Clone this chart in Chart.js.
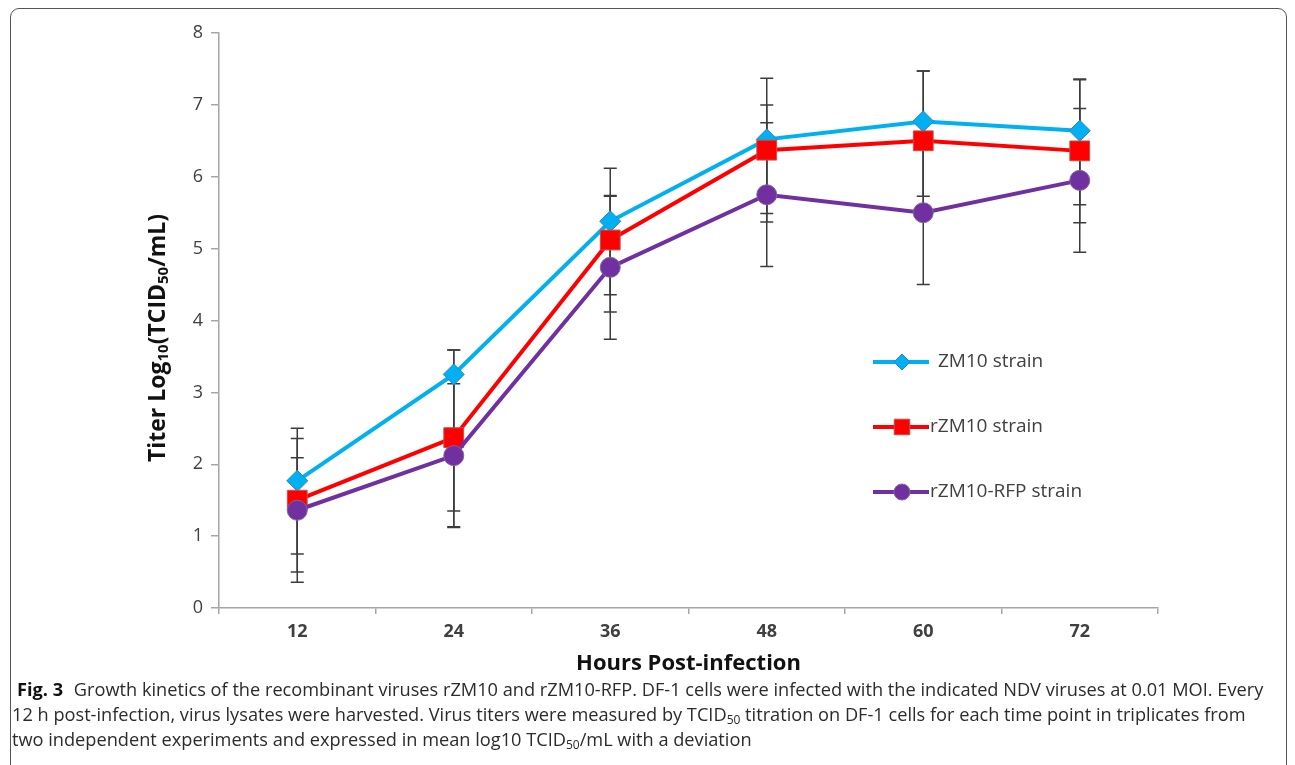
<!DOCTYPE html>
<html>
<head>
<meta charset="utf-8">
<script src="https://cdn.jsdelivr.net/npm/chart.js@4.4.1/dist/chart.umd.min.js"></script>
<style>
    body {
        margin: 0;
        width: 1295px;
        height: 765px;
        overflow: hidden;
        position: relative;
        background: #fff;
        font-family: 'Open Sans', sans-serif;
    }
    .frame {
        position: absolute;
        left: 10px;
        top: 8px;
        width: 1277px;
        height: 800px;
        border: 1.5px solid #555;
        border-radius: 9px;
        box-sizing: border-box;
    }
    #growthChart {
        position: absolute;
        left: 0;
        top: 0;
    }
    .caption {
        position: absolute;
        left: 12px;
        top: 677px;
        font-size: 18.2px;
        line-height: 25px;
        color: #2b2b2b;
        white-space: nowrap;
    }
    .caption b {
        color: #111;
        margin-left: 5px;
        margin-right: 6px;
    }
    .caption sub {
        font-size: 12px;
        line-height: 0;
        vertical-align: -3px;
    }
</style>
</head>
<body>
<div class="frame"></div>
<canvas id="growthChart" width="1295" height="680"></canvas>
<div class="caption">
    <b>Fig. 3</b> Growth kinetics of the recombinant viruses rZM10 and rZM10-RFP. DF-1 cells were infected with the indicated NDV viruses at 0.01 MOI. Every<br>
    12 h post-infection, virus lysates were harvested. Virus titers were measured by TCID<sub>50</sub> titration on DF-1 cells for each time point in triplicates from<br>
    two independent experiments and expressed in mean log10 TCID<sub>50</sub>/mL with a deviation
</div>
<script>
const hours = ['12', '24', '36', '48', '60', '72'];
const yTicks = [0, 1, 2, 3, 4, 5, 6, 7, 8];

const zm10 = [1.77, 3.25, 5.38, 6.52, 6.77, 6.64];
const rzm10 = [1.5, 2.37, 5.12, 6.37, 6.5, 6.36];
const rfp = [1.36, 2.12, 4.74, 5.75, 5.5, 5.95];

// error bar lengths above / below each mean
const zm10ErrUp = [0.32, 0.34, 0.35, 0.48, 0.7, 0.71];
const zm10ErrDown = [1.02, 2.12, 1.02, 1.03, 1.04, 1.03];
const rzm10ErrUp = [1.0, 1.22, 1.0, 1.0, 0.97, 1.0];
const rzm10ErrDown = [1.0, 1.02, 1.0, 1.0, 1.0, 1.0];
const rfpErrUp = [1.0, 1.0, 1.0, 1.0, 1.0, 1.0];
const rfpErrDown = [1.0, 1.0, 1.0, 1.0, 1.0, 1.0];

const axisGray = '#a6a6a6';
const labelGray = '#404040';

// draws error bars behind the lines
const errorBars = {
    id: 'errorBars',
    beforeDatasetsDraw(chart) {
        const ctx = chart.ctx;
        const xScale = chart.scales.x;
        const yScale = chart.scales.y;
        ctx.save();
        ctx.strokeStyle = '#3c3c3c';
        ctx.lineWidth = 1.5;
        chart.data.datasets.forEach(ds => {
            ds.data.forEach((v, i) => {
                const px = xScale.getPixelForValue(i);
                const top = yScale.getPixelForValue(v + ds.errUp[i]);
                const bottom = yScale.getPixelForValue(v - ds.errDown[i]);
                ctx.beginPath();
                ctx.moveTo(px, top);
                ctx.lineTo(px, bottom);
                ctx.moveTo(px - 6.5, top);
                ctx.lineTo(px + 6.5, top);
                ctx.moveTo(px - 6.5, bottom);
                ctx.lineTo(px + 6.5, bottom);
                ctx.stroke();
            });
        });
        ctx.restore();
    }
};

function drawMarker(ctx, style, x, y, r) {
    ctx.beginPath();
    if (style === 'rectRot') {
        ctx.moveTo(x - r, y);
        ctx.lineTo(x, y - r);
        ctx.lineTo(x + r, y);
        ctx.lineTo(x, y + r);
        ctx.closePath();
    } else if (style === 'rect') {
        const s = r * Math.SQRT1_2;
        ctx.rect(x - s, y - s, s * 2, s * 2);
    } else {
        ctx.arc(x, y, r, 0, Math.PI * 2);
    }
    ctx.fill();
    ctx.stroke();
}

// legend sits inside the plot, one entry per row
const insideLegend = {
    id: 'insideLegend',
    afterDraw(chart) {
        const ctx = chart.ctx;
        const area = chart.chartArea;
        const x0 = area.left + 654;
        const legendSizes = [8, 11, 8];
        const textGap = [65, 57, 57];
        ctx.save();
        chart.data.datasets.forEach((ds, i) => {
            const y = area.top + 329 + i * 65;
            ctx.strokeStyle = ds.borderColor;
            ctx.lineWidth = 4;
            ctx.beginPath();
            ctx.moveTo(x0, y);
            ctx.lineTo(x0 + 56, y);
            ctx.stroke();
            ctx.fillStyle = ds.pointBackgroundColor;
            ctx.strokeStyle = ds.pointBorderColor;
            ctx.lineWidth = 1;
            drawMarker(ctx, ds.pointStyle, x0 + 29, y, legendSizes[i]);
            ctx.fillStyle = labelGray;
            ctx.font = '19px "Open Sans", sans-serif';
            ctx.textBaseline = 'middle';
            ctx.fillText(ds.label, x0 + textGap[i], y);
        });
        ctx.restore();
    }
};

// rotated y title with subscripts
const yTitle = {
    id: 'yTitle',
    afterDraw(chart) {
        const ctx = chart.ctx;
        const parts = [
            { t: 'Titer Log', sub: false },
            { t: '10', sub: true },
            { t: '(TCID', sub: false },
            { t: '50', sub: true },
            { t: '/mL)', sub: false }
        ];
        const bigFont = 'bold 23px "Open Sans", sans-serif';
        const smallFont = 'bold 15px "Open Sans", sans-serif';
        ctx.save();
        let total = 0;
        parts.forEach(p => {
            ctx.font = p.sub ? smallFont : bigFont;
            p.w = ctx.measureText(p.t).width;
            total += p.w;
        });
        ctx.translate(158, 338);
        ctx.rotate(-Math.PI / 2);
        ctx.fillStyle = '#111';
        ctx.textBaseline = 'middle';
        let cx = -total / 2;
        parts.forEach(p => {
            ctx.font = p.sub ? smallFont : bigFont;
            ctx.fillText(p.t, cx, p.sub ? 6 : 0);
            cx += p.w;
        });
        ctx.restore();
    }
};

document.addEventListener('DOMContentLoaded', function() {
    const ctx = document.getElementById('growthChart');
    new Chart(ctx, {
        type: 'line',
        data: {
            labels: hours,
            datasets: [
                {
                    label: 'ZM10 strain',
                    data: zm10,
                    errUp: zm10ErrUp,
                    errDown: zm10ErrDown,
                    borderColor: '#00b0f0',
                    borderWidth: 4,
                    pointStyle: 'rectRot',
                    pointRadius: 10.5,
                    pointBackgroundColor: '#00b0f0',
                    pointBorderColor: '#2a86c8',
                    pointBorderWidth: 1,
                    order: 2
                },
                {
                    label: 'rZM10 strain',
                    data: rzm10,
                    errUp: rzm10ErrUp,
                    errDown: rzm10ErrDown,
                    borderColor: '#ff0000',
                    borderWidth: 4,
                    pointStyle: 'rect',
                    pointRadius: 14,
                    pointBackgroundColor: '#ff0000',
                    pointBorderColor: '#c0504d',
                    pointBorderWidth: 1,
                    order: 1
                },
                {
                    label: 'rZM10-RFP strain',
                    data: rfp,
                    errUp: rfpErrUp,
                    errDown: rfpErrDown,
                    borderColor: '#7030a0',
                    borderWidth: 4,
                    pointStyle: 'circle',
                    pointRadius: 10,
                    pointBackgroundColor: '#7030a0',
                    pointBorderColor: '#8064a2',
                    pointBorderWidth: 1,
                    order: 0
                }
            ]
        },
        options: {
            responsive: false,
            animation: false,
            layout: { padding: { top: 33, right: 137, left: 0, bottom: 0 } },
            plugins: {
                legend: { display: false },
                tooltip: { enabled: false }
            },
            elements: { line: { tension: 0 } },
            scales: {
                x: {
                    offset: true,
                    grid: { offset: true, drawOnChartArea: false, tickLength: 6, color: axisGray, lineWidth: 1.5 },
                    border: { color: axisGray, width: 1.5 },
                    ticks: {
                        color: labelGray,
                        padding: 7,
                        font: { family: 'Open Sans', size: 18, weight: 'bold' }
                    },
                    title: {
                        display: true,
                        text: 'Hours Post-infection',
                        color: '#111',
                        padding: { top: 0, bottom: 3 },
                        font: { family: 'Open Sans', size: 22, weight: 'bold' }
                    },
                    afterFit(scale) { scale.height = 72; }
                },
                y: {
                    min: yTicks[0],
                    max: yTicks[yTicks.length - 1],
                    afterBuildTicks(scale) { scale.ticks = yTicks.map(v => ({ value: v })); },
                    grid: { drawOnChartArea: false, tickLength: 8, color: axisGray, lineWidth: 1.5 },
                    border: { color: axisGray, width: 1.5 },
                    ticks: {
                        color: labelGray,
                        padding: 8,
                        font: { family: 'Open Sans', size: 18 }
                    },
                    afterFit(scale) { scale.width = 219; }
                }
            }
        },
        plugins: [errorBars, insideLegend, yTitle]
    });
});
</script>
</body>
</html>
